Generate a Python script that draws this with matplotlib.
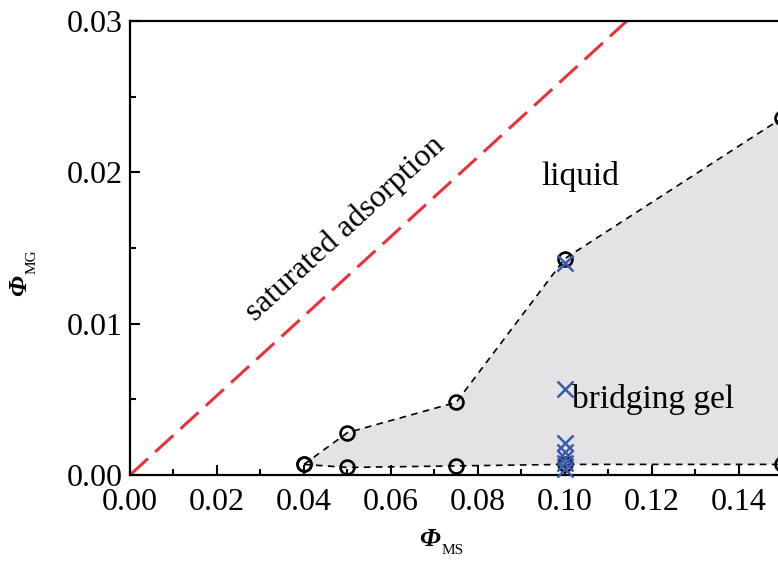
import matplotlib.pyplot as plt
import numpy as np

plt.rcParams['font.family'] = 'Liberation Serif'

# phase boundary points (open circles)
upper_x = [0.04, 0.05, 0.075, 0.10, 0.15]
upper_y = [0.0007, 0.0028, 0.0048, 0.0143, 0.0236]
lower_x = [0.04, 0.05, 0.075, 0.10, 0.15]
lower_y = [0.0007, 0.0005, 0.0006, 0.0007, 0.0007]

# gel samples (blue crosses)
cross_x = [0.10, 0.10, 0.10, 0.10, 0.10, 0.10, 0.10]
cross_y = [0.0140, 0.0057, 0.0021, 0.0015, 0.0011, 0.0008, 0.0004]

# saturated adsorption line
sat_x = [0.0, 0.115]
sat_y = [0.0, 0.0302]

W, H = 778, 564
fig = plt.figure(figsize=(W/100, H/100), dpi=100)
ax = fig.add_axes([130/W, 89/H, 648/W, 454/H])

poly_x = upper_x + lower_x[::-1]
poly_y = upper_y + lower_y[::-1]
ax.fill(poly_x, poly_y, color='#e3e3e6', lw=0, zorder=1)

ax.plot(sat_x, sat_y, color='#e8323c', lw=2.2, dashes=(8, 3.2), zorder=2)
ax.plot(upper_x, upper_y, color='black', lw=1.2, dashes=(4, 3.2), zorder=3)
ax.plot(lower_x, lower_y, color='black', lw=1.2, dashes=(4, 3.2), zorder=3)
ax.plot(upper_x, upper_y, 'o', ms=10, mfc='none', mec='black', mew=1.9,
        zorder=4, clip_on=False)
ax.plot(lower_x, lower_y, 'o', ms=10, mfc='none', mec='black', mew=1.9,
        zorder=4, clip_on=False)
ax.plot(cross_x, cross_y, 'x', ms=11, color='#3a5ba8', mew=1.8, zorder=5,
        clip_on=False)

ax.text(0.1035, 0.0197, 'liquid', fontsize=24, ha='center', va='center')
ax.text(0.1017, 0.0050, 'bridging gel', fontsize=24, ha='left', va='center')
ax.text(0.0495, 0.0163, 'saturated adsorption', fontsize=23, ha='center',
        va='center', rotation=42.5, rotation_mode='anchor')

ax.set_xlim(0, 0.149)
ax.set_ylim(0, 0.03)
ax.set_xticks(np.arange(0, 0.141, 0.02))
ax.set_yticks([0.0, 0.01, 0.02, 0.03])
ax.set_xticklabels(['0.00', '0.02', '0.04', '0.06', '0.08', '0.10', '0.12', '0.14'])
ax.set_yticklabels(['0.00', '0.01', '0.02', '0.03'])
ax.set_xticks(np.arange(0.01, 0.15, 0.02), minor=True)
ax.set_yticks([0.005, 0.015, 0.025], minor=True)
ax.tick_params(which='both', direction='in', width=1.5, labelsize=23)
ax.tick_params(axis='x', which='major', pad=9)
ax.tick_params(axis='y', which='major', pad=5)
ax.tick_params(which='major', length=7)
ax.tick_params(which='minor', length=4)
for s in ['left', 'bottom', 'top']:
    ax.spines[s].set_linewidth(1.6)
ax.spines['right'].set_visible(False)

# axis labels: italic Phi with small upright subscript
fig.text(430/W, 1 - 540/H, 'Φ', fontsize=19, style='italic', weight='bold',
         ha='center', va='center')
fig.text(453/W, 1 - 551/H, 'MS', fontsize=11, ha='center', va='center')
fig.text(20/W, 1 - 286/H, 'Φ', fontsize=19, style='italic', weight='bold',
         rotation=90, ha='center', va='center')
fig.text(32/W, 1 - 262/H, 'MG', fontsize=11, rotation=90,
         ha='center', va='center')

fig.savefig('out.png', dpi=100)
